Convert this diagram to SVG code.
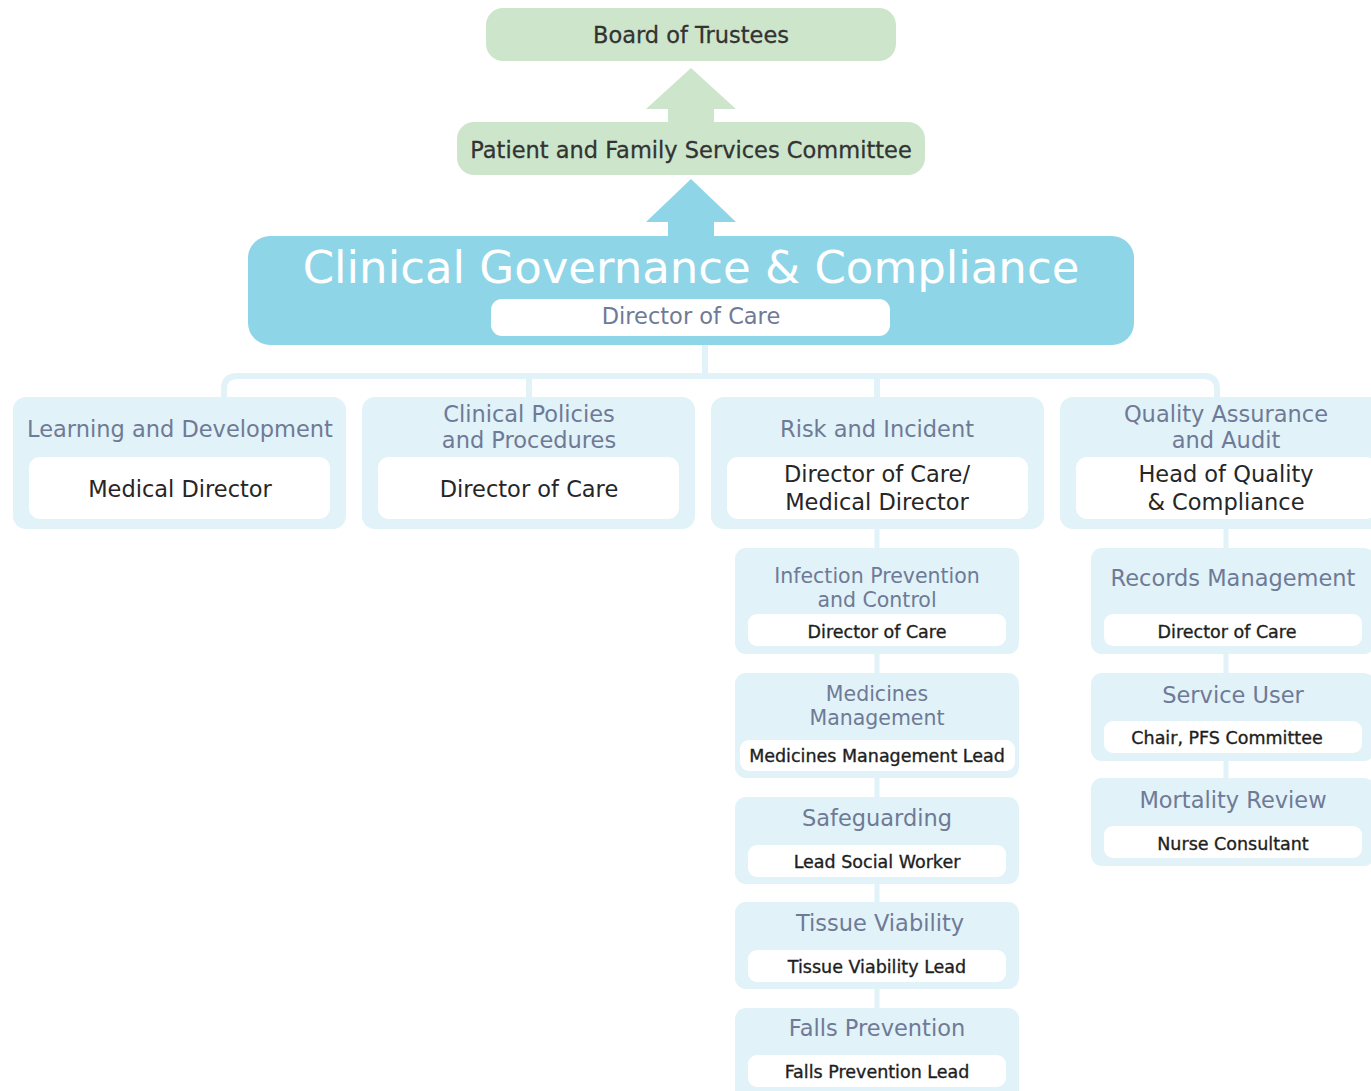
<svg xmlns="http://www.w3.org/2000/svg" width="1371" height="1091" viewBox="0 0 1371 1091">
  <style>
    text { font-family: "DejaVu Sans", "Noto Sans", sans-serif; text-anchor: middle; }
    .green { fill: #cde6cb; }
    .blue { fill: #8fd5e8; }
    .panel { fill: #e1f2f9; }
    .inner { fill: #ffffff; }
    .top { font-size: 22.5px; fill: #333333; stroke: #333333; stroke-width: 0.3; }
    .big { font-size: 45px; fill: #ffffff; }
    .head { font-size: 22.5px; fill: #6f7a96; }
    .head2 { font-size: 20.5px; fill: #6f7a96; }
    .role { font-size: 22.5px; fill: #262626; }
    .small { font-size: 17.5px; fill: #1e1e1e; stroke: #1e1e1e; stroke-width: 0.35; }
    .wire { fill: none; stroke: #e1f2f9; stroke-width: 6; }
    .wire-thin { fill: none; stroke: #e1f2f9; stroke-width: 5; }
  </style>

  <!-- connectors: block arrows up the chain, then the tree below -->
  <g id="connectors">
    <polygon class="green" points="691,68 736,109 714,109 714,123 668,123 668,109 646,109"/>
    <polygon class="blue" points="691,179 736,222 714,222 714,237 668,237 668,222 646,222"/>
    <path class="wire" d="M705,345 V376"/>
    <path class="wire" d="M224,398 V389 Q224,376 237,376 H1204 Q1217,376 1217,389 V398"/>
    <path class="wire" d="M529,376 V398"/>
    <path class="wire" d="M877,376 V398"/>
    <path class="wire-thin" d="M877,528 V549 M877,653 V674 M877,777 V798 M877,883 V903 M877,988 V1009"/>
    <path class="wire-thin" d="M1226,528 V549 M1226,653 V674 M1226,760 V779"/>
  </g>

  <g id="board">
    <rect class="green" x="486" y="8" width="410" height="53" rx="17"/>
    <text class="top" x="691" y="43">Board of Trustees</text>
  </g>

  <g id="pfs-committee">
    <rect class="green" x="457" y="122" width="468" height="53" rx="17"/>
    <text class="top" x="691" y="158">Patient and Family Services Committee</text>
  </g>

  <g id="clinical-governance">
    <rect class="blue" x="248" y="236" width="886" height="109" rx="22"/>
    <text class="big" x="691" y="283">Clinical Governance &amp; Compliance</text>
    <rect class="inner" x="491" y="299" width="399" height="37" rx="11"/>
    <text class="head" x="691" y="324">Director of Care</text>
  </g>

  <g id="learning">
    <rect class="panel" x="13" y="397" width="333" height="132" rx="13"/>
    <rect class="inner" x="29" y="457" width="301" height="62" rx="11"/>
    <text class="head" x="180" y="437">Learning and Development</text>
    <text class="role" x="180" y="497">Medical Director</text>
  </g>

  <g id="policies">
    <rect class="panel" x="362" y="397" width="333" height="132" rx="13"/>
    <rect class="inner" x="378" y="457" width="301" height="62" rx="11"/>
    <text class="head" x="529" y="422">Clinical Policies</text>
    <text class="head" x="529" y="448">and Procedures</text>
    <text class="role" x="529" y="497">Director of Care</text>
  </g>

  <g id="risk">
    <rect class="panel" x="711" y="397" width="333" height="132" rx="13"/>
    <rect class="inner" x="727" y="457" width="301" height="62" rx="11"/>
    <text class="head" x="877" y="437">Risk and Incident</text>
    <text class="role" x="877" y="482">Director of Care/</text>
    <text class="role" x="877" y="510">Medical Director</text>
  </g>

  <g id="quality">
    <rect class="panel" x="1060" y="397" width="333" height="132" rx="13"/>
    <rect class="inner" x="1076" y="457" width="301" height="62" rx="11"/>
    <text class="head" x="1226" y="422">Quality Assurance</text>
    <text class="head" x="1226" y="448">and Audit</text>
    <text class="role" x="1226" y="482">Head of Quality</text>
    <text class="role" x="1226" y="510">&amp; Compliance</text>
  </g>

  <g id="infection">
    <rect class="panel" x="735" y="548" width="284" height="106" rx="11"/>
    <rect class="inner" x="748" y="614" width="258" height="32" rx="9"/>
    <text class="head2" x="877" y="583">Infection Prevention</text>
    <text class="head2" x="877" y="607">and Control</text>
    <text class="small" x="877" y="638">Director of Care</text>
  </g>

  <g id="medicines">
    <rect class="panel" x="735" y="673" width="284" height="105" rx="11"/>
    <rect class="inner" x="740" y="740" width="275" height="31" rx="9"/>
    <text class="head2" x="877" y="701">Medicines</text>
    <text class="head2" x="877" y="725">Management</text>
    <text class="small" x="877" y="762">Medicines Management Lead</text>
  </g>

  <g id="safeguarding">
    <rect class="panel" x="735" y="797" width="284" height="87" rx="11"/>
    <rect class="inner" x="748" y="845" width="258" height="32" rx="9"/>
    <text class="head" x="877" y="826">Safeguarding</text>
    <text class="small" x="877" y="868">Lead Social Worker</text>
  </g>

  <g id="tissue">
    <rect class="panel" x="735" y="902" width="284" height="87" rx="11"/>
    <rect class="inner" x="748" y="950" width="258" height="32" rx="9"/>
    <text class="head" x="880" y="931">Tissue Viability</text>
    <text class="small" x="877" y="973">Tissue Viability Lead</text>
  </g>

  <g id="falls">
    <rect class="panel" x="735" y="1008" width="284" height="95" rx="11"/>
    <rect class="inner" x="748" y="1055" width="258" height="32" rx="9"/>
    <text class="head" x="877" y="1036">Falls Prevention</text>
    <text class="small" x="877" y="1078">Falls Prevention Lead</text>
  </g>

  <g id="records">
    <rect class="panel" x="1091" y="548" width="284" height="106" rx="11"/>
    <rect class="inner" x="1104" y="614" width="258" height="32" rx="9"/>
    <text class="head" x="1233" y="586">Records Management</text>
    <text class="small" x="1227" y="638">Director of Care</text>
  </g>

  <g id="service-user">
    <rect class="panel" x="1091" y="673" width="284" height="88" rx="11"/>
    <rect class="inner" x="1104" y="721" width="258" height="32" rx="9"/>
    <text class="head" x="1233" y="703">Service User</text>
    <text class="small" x="1227" y="744">Chair, PFS Committee</text>
  </g>

  <g id="mortality">
    <rect class="panel" x="1091" y="778" width="284" height="88" rx="11"/>
    <rect class="inner" x="1104" y="826" width="258" height="32" rx="9"/>
    <text class="head" x="1233" y="808">Mortality Review</text>
    <text class="small" x="1233" y="850">Nurse Consultant</text>
  </g>
</svg>
